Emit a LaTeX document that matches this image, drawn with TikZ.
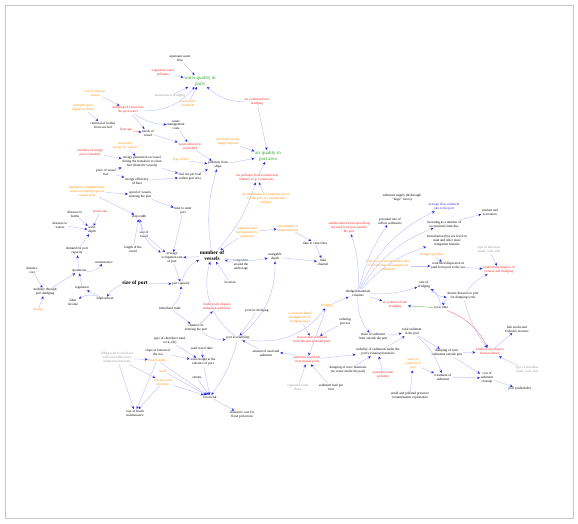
\documentclass[tikz,border=0pt]{standalone}
\usepackage{fontspec}
\setmainfont{Liberation Serif}
\usetikzlibrary{arrows.meta}
\definecolor{cred}{RGB}{240,30,30}
\definecolor{corg}{RGB}{255,140,0}
\definecolor{cgrn}{RGB}{40,160,40}
\definecolor{cedge}{RGB}{190,195,255}
\definecolor{carr}{RGB}{40,40,230}
\definecolor{cgry}{RGB}{150,150,150}
\begin{document}
\begin{tikzpicture}[x=1pt,y=-1pt,
  n/.style={font=\fontsize{3.4}{3.9}\selectfont, align=center, inner sep=0.6pt},
  rd/.style={n, text=cred},
  og/.style={n, text=corg},
  gy/.style={n, text=cgry},
  bl/.style={n, text=carr},
  gb/.style={n, text=cgrn, font=\fontsize{5}{5.6}\selectfont},
  bb/.style={n, font=\bfseries\fontsize{5.4}{6}\selectfont},
  e/.style={draw=cedge, line width=0.45pt, -{Stealth[length=3pt,width=2.6pt,color=carr]}},
  re/.style={e, draw=cred!55},
  ge/.style={e, draw=cgrn!65}]
\useasboundingbox (0,0) rectangle (578,523);
\draw[gray!45, line width=0.5pt] (5,5) rectangle (573,518);
% ---------- top cluster
\node[n] (uwf) at (180,59) {upstream water\\flow};
\node[rd] (vwp) at (163,73) {vegetation water\\pollution};
\node[gb] (wqp) at (200,81) {water quality in\\ports};
\node[gy] (gry1) at (170,96) {maintenance dredging};
\node[og] (wwt) at (188,104) {wastewater\\treatment};
\node[rd] (apd) at (257,102) {air pollution from\\dredging};
\node[gb] (aqp) at (268,156) {air quality in\\port area};
\node[og] (sea) at (95,93) {rise in toxins at\\source};
\node[og] (eut) at (83,108) {eutrophication\\(algae) on fleets};
\node[rd] (dtw) at (128,110) {dumping of toxins into\\the open water};
\node[n] (rbs) at (103,125) {removal of bodies\\from sea bed};
\node[rd] (fla) at (126,130) {fleet age};
\node[n] (nov) at (148,133) {needs of\\vessel};
\node[n] (wmc) at (176,125) {waste\\management\\costs};
\node[rd] (wah) at (190,146) {waste adhered to\\vessel hull};
\node[og] (ren) at (125,146) {renewable\\energy for vessels};
\node[n] (egv) at (142,162) {energy generation on vessel\\during the transition to clean\\fuel (from the vessels)};
\node[rd] (vep) at (90,153) {volatility of energy\\prices (market)};
\node[n] (pvf) at (106,172) {price of vessel\\fuel};
\node[n] (eef) at (137,181) {energy efficiency\\of fleet};
\node[og] (tof) at (181,160) {type of fuel};
\node[n] (pfs) at (218,165) {pollution from\\ships};
\node[n] (fup) at (190,177) {fuel use per boat\\within port area};
\node[og] (res) at (228,142) {renewable energy\\supply imports};
\node[rd] (apt) at (257,178) {air pollution from tourism and\\industry (e.g. cruises) etc.};
\node[og] (dec) at (266,199) {decarbonisation of maritime sector\\for the port, for tourism and\\industry};
% ---------- left middle
\node[og] (leg) at (87,191) {legislation: supplementary\\norms in entering special\\coastal zone};
\node[n] (sve) at (140,195) {speed of vessels\\entering the port};
\node[n] (tep) at (183,211) {time to enter\\port};
\node[n] (tdh) at (139,217) {ship width};
\node[n] (sov) at (144,234) {size of\\vessel};
\node[n] (lfv) at (133,249) {length of the\\vessel};
\node[n] (dtb) at (75,214) {distance to\\berths};
\node[n] (dtw2) at (60,225) {distance to\\waters};
\node[rd] (srk) at (100,211) {storm risk};
\node[n] (wdp) at (92,230) {water\\depth};
\node[n] (dpc) at (77,251) {demand for port\\capacity};
\node[n] (ops) at (79,271) {operations};
\node[n] (mnt) at (104,262) {maintenance};
\node[n] (dco) at (32,270) {distance\\cost};
\node[n] (mtd) at (45,292) {mobility through\\port dredging};
\node[og] (spr) at (38,310) {Spring};
\node[n] (reg) at (82,288) {regulation};
\node[n] (lab) at (73,302) {labor\\income};
\node[n] (emp) at (105,299) {employment};
\node[bb] (sop) at (135,283) {size of port};
\node[bb] (nv) at (212,256) {number of\\vessels};
\node[n] (aor) at (172,258) {average\\occupation rate\\of port};
\node[n] (pc) at (181,284) {port capacity};
\node[n] (cav) at (241,265) {congestion\\around the\\anchorage};
\node[n] (loc) at (230,282) {location};
\node[n] (ht) at (170,308) {hinterland trade};
\node[rd] (bip) at (217,307) {biodiversity impacts\\mitigation pathways};
\node[n] (cep) at (196,328) {channel for\\entering the port};
\node[og] (rms) at (247,232) {regulation and\\mechanisms for\\sediments};
\node[og] (rso) at (288,228) {remediation of\\sediment levels};
\node[n] (ndep) at (275,257) {navigable\\depth};
\node[n] (ttt) at (315,243) {time to clear tides};
\node[n] (tch) at (323,262) {tidal\\channel};
% ---------- right cluster
\node[n] (ssl) at (402,198) {sediment supply (\& through\\``large'' rivers)};
\node[bl] (asp) at (444,207) {average flow sediment\\rate to the port};
\node[n] (prs) at (390,221) {potential rate of\\inflow sediments};
\node[rd] (sdo) at (349,228) {sedimentation from upwelling\\the sand from port outside\\the port};
\node[n] (lcr) at (444,224) {loosening as a number of\\recreational launches};
\node[n] (tar) at (490,212) {tourism and\\recreation};
\node[n] (bio) at (447,241) {bioturbation (by) sea level on\\mud and other more\\mitigation features};
\node[og] (dtp) at (432,255) {dredge type/plan};
\node[og] (lfm) at (388,266) {little flow of stream (rather than\\of stream that can dampen the\\sediments)};
\node[n] (cds) at (448,266) {controlled dispersion of\\sand from port to the sea};
\node[gy] (tgr) at (489,250) {type of shoreline\\(sand, rock, silt)};
\node[rd] (bid) at (499,270) {biodiversity impacts of\\erosion and dredging};
\node[n] (dmv) at (358,293) {dredged materials\\volumes};
\node[n] (rod) at (424,285) {rate of\\dredging};
\node[rd] (apd2) at (395,305) {air pollution from\\dredging};
\node[n] (dtd) at (463,296) {shorter distance to port\\for dumping work};
\node[n] (cyt) at (441,308) {cycle time};
\node[og] (dro) at (327,306) {dredging};
\node[og] (ecd) at (300,318) {ecosystem-based\\management for\\dredging (e.g.)};
\node[n] (odp) at (345,322) {ordering\\process};
\node[rd] (esp) at (312,340) {erosion and sediments\\from the port (outside port)};
\node[rd] (slr) at (307,360) {sediment load from\\river (inside port)};
\node[n] (ssp) at (373,337) {share of sediment\\from outside the port};
\node[n] (tsp) at (412,332) {total sediment\\in the port};
\node[n] (msp) at (378,352) {mobility of sediments under the\\port's existing dynamics};
\node[n] (dtm) at (348,370) {dumping of toxic materials\\(w/ water inside the port)};
\node[rd] (uwp) at (383,375) {upstream water\\pollution};
\node[gy] (grs) at (298,387) {regulated waste\\flows};
\node[n] (slp) at (331,387) {sediment load per\\river};
\node[n] (mps) at (410,396) {small and polluted presence\\contamination explanation};
\node[og] (oss) at (413,364) {share of\\sediment in\\port};
\node[n] (dts) at (447,353) {dumping of toxic\\sediments outside port};
\node[n] (tos) at (443,377) {treatment of\\sediment};
\node[rd] (bpp) at (490,352) {biodiversity impacts\\from pollution};
\node[n] (csc) at (487,378) {cost of\\sediment\\cleanup};
\node[n] (ppr) at (520,389) {port profitability};
\node[n] (fsf) at (517,329) {fish stocks and\\fisheries revenue};
\node[gy] (grt) at (527,370) {type of shoreline\\(sand, rock, silt)};
% ---------- bottom left
\node[n] (pac) at (238,338) {port accessibility};
\node[n] (asd) at (266,353) {amount of sand and\\sediment};
\node[n] (sfd) at (257,311) {port for dredging};
\node[n] (tsl) at (170,341) {type of shoreline (sand,\\rock, silt)};
\node[n] (stt) at (202,348) {sand travel time};
\node[n] (sbs) at (158,352) {slope of bottom of\\the sea};
\node[n] (whp) at (203,362) {wave height at the\\entrance of port};
\node[og] (bw) at (157,360) {Beach width};
\node[og] (sws) at (163,371) {swell};
\node[og] (swd) at (163,382) {sea and wave\\direction};
\node[n] (sto) at (197,378) {storms};
\node[n] (flr) at (210,397) {flood risk};
\node[gy] (fsg) at (117,358) {filling sand to avoid sea\\walls and other more\\mitigation functions};
\node[n] (cbm) at (135,413) {cost of beach\\maintenance};
\node[n] (icf) at (242,415) {insurance cost for\\flood protection};
% ---------- edges top
\draw[e] (uwf) -- (wqp);
\draw[e] (vwp) -- (wqp);
\draw[e] (dtw) to[bend right=25] (wqp);
\draw[e] (gry1) -- (wqp);
\draw[e] (wwt) -- (wqp);
\draw[e] (apd) to[bend left=20] (wqp);
\draw[e] (apd) -- (aqp);
\draw[e] (pfs) -- (aqp);
\draw[e] (res) -- (aqp);
\draw[e] (apt) -- (aqp);
\draw[e] (sea) -- (dtw);
\draw[e] (eut) -- (rbs);
\draw[e] (dtw) -- (nov);
\draw[re] (fla) -- (nov);
\draw[e] (dtw) to[bend right=15] (wmc);
\draw[e] (wmc) -- (wah);
\draw[e] (nov) -- (wah);
\draw[e] (wah) -- (pfs);
\draw[e] (ren) -- (egv);
\draw[e] (vep) -- (egv);
\draw[e] (pvf) -- (egv);
\draw[e] (pvf) -- (eef);
\draw[e] (egv) -- (fup);
\draw[e] (eef) -- (fup);
\draw[e] (tof) -- (pfs);
\draw[e] (fup) -- (pfs);
\draw[e] (nv) to[bend left=12] (pfs);
\draw[e] (nv) to[bend right=12] (apt);
\draw[e] (dec) -- (apt);
% ---------- edges left middle
\draw[e] (leg) -- (sve);
\draw[e] (leg) -- (tdh);
\draw[e] (sve) -- (tep);
\draw[e] (tep) -- (aor);
\draw[e] (lfv) -- (tdh);
\draw[e] (sov) -- (tdh);
\draw[e] (tdh) to[bend right=25] (aor);
\draw[e] (sov) -- (aor);
\draw[e] (dtb) -- (wdp);
\draw[e] (dtw2) -- (wdp);
\draw[e] (srk) -- (wdp);
\draw[e] (dpc) -- (wdp);
\draw[e] (ops) -- (dpc);
\draw[e] (ops) to[bend right=25] (mnt);
\draw[e] (mtd) -- (ops);
\draw[e] (dco) -- (mtd);
\draw[e] (spr) -- (mtd);
\draw[e] (reg) -- (ops);
\draw[e] (emp) -- (reg);
\draw[e] (sop) to[bend right=20] (emp);
\draw[e] (emp) to[bend right=25] (lab);
\draw[e] (sop) -- (pc);
\draw[e] (pc) to[bend left=25] (nv);
\draw[e] (nv) -- (aor);
\draw[e] (aor) -- (pc);
\draw[e] (cav) -- (nv);
\draw[e] (loc) -- (nv);
\draw[e] (rms) -- (nv);
\draw[e] (nv) to[bend right=10] (ndep);
\draw[e] (rms) -- (rso);
\draw[e] (ht) -- (cep);
\draw[e] (cep) -- (bip);
\draw[e] (ht) to[bend right=25] (pc);
\draw[e] (pac) to[bend left=35] (nv);
\draw[e] (pac) to[bend right=25] (ndep);
\draw[e] (cep) to[bend right=20] (pac);
\draw[e] (rso) -- (ttt);
\draw[e] (ttt) -- (tch);
\draw[e] (ndep) -- (tch);
% ---------- edges right
\draw[e] (dmv) to[bend right=10] (sdo);
\draw[e] (dmv) to[bend left=10] (prs);
\draw[e] (dmv) to[bend left=20] (asp);
\draw[e] (dmv) to[bend left=18] (lcr);
\draw[e] (dmv) to[bend left=15] (bio);
\draw[e] (lfm) -- (cds);
\draw[e] (dmv) to[bend right=10] (rod);
\draw[e] (dmv) -- (apd2);
\draw[e] (dro) -- (dmv);
\draw[e] (pac) to[bend right=30] (dro);
\draw[e] (dtp) -- (cds);
\draw[e] (lcr) -- (tar);
\draw[e] (cds) -- (bid);
\draw[e] (tgr) -- (bid);
\draw[e] (rod) to[bend right=20] (dtd);
\draw[e] (dtd) to[bend right=20] (cyt);
\draw[e] (cyt) to[bend right=25] (rod);
\draw[ge] (cyt) -- (apd2);
\draw[e] (dtd) to[bend left=15] (bid);
\draw[re] (cyt) to[bend left=20] (bpp);
\draw[e] (dtd) to[bend right=10] (bpp);
\draw[e] (bpp) -- (fsf);
\draw[e] (grt) -- (bpp);
\draw[e] (dts) -- (bpp);
\draw[e] (dts) -- (csc);
\draw[e] (tos) -- (csc);
\draw[e] (csc) -- (ppr);
\draw[e] (tsp) -- (dts);
\draw[e] (tsp) to[bend left=15] (tos);
\draw[e] (oss) -- (tos);
\draw[e] (ssp) -- (tsp);
\draw[e] (msp) -- (tsp);
\draw[e] (dmv) to[bend right=20] (ssp);
\draw[e] (slr) -- (msp);
\draw[e] (dtm) -- (msp);
\draw[e] (uwp) -- (msp);
\draw[e] (grs) -- (slr);
\draw[e] (slp) -- (slr);
\draw[e] (mps) -- (oss);
\draw[e] (slr) to[bend right=10] (asd);
\draw[e] (ecd) -- (esp);
\draw[e] (odp) -- (esp);
\draw[e] (dro) -- (slr);
\draw[e] (asd) -- (pac);
\draw[e] (sfd) -- (pac);
% ---------- edges bottom left
\draw[e] (stt) -- (whp);
\draw[e] (tsl) -- (whp);
\draw[e] (sbs) -- (whp);
\draw[e] (bw) -- (flr);
\draw[e] (sws) -- (flr);
\draw[e] (swd) -- (flr);
\draw[e] (sto) -- (flr);
\draw[e] (whp) -- (flr);
\draw[e] (pac) to[bend left=10] (flr);
\draw[e] (flr) -- (icf);
\draw[e] (fsg) -- (bw);
\draw[e] (fsg) -- (cbm);
\draw[e] (bw) -- (cbm);
\draw[e] (swd) -- (cbm);
\draw[e] (fsg) -- (swd);
\end{tikzpicture}
\end{document}
